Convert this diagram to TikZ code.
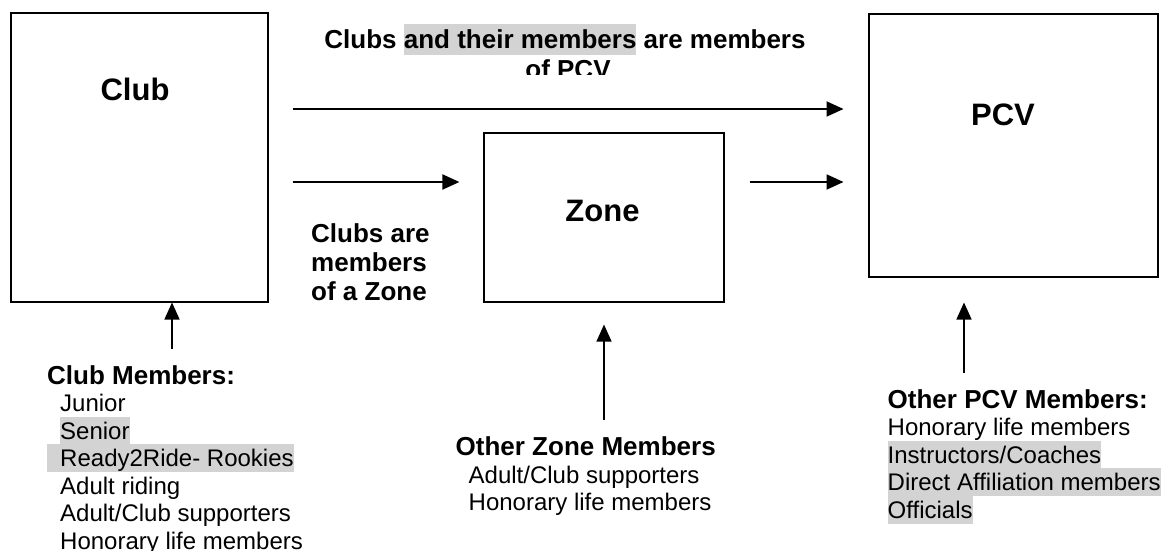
\documentclass[tikz,border=0pt]{standalone}
\usepackage{fontspec}
\setmainfont[Ligatures=NoCommon]{Liberation Sans}
\usetikzlibrary{arrows.meta}
\definecolor{hilite}{HTML}{D3D3D3}
\newcommand{\hl}[1]{{\setlength{\fboxsep}{0pt}\colorbox{hilite}{\rule[-0.24em]{0pt}{1.16em}#1}}}

\begin{document}
\begin{tikzpicture}[x=1pt,y=-1pt,
        box/.style={draw,line width=2pt,inner sep=0pt},
        thinbox/.style={draw,line width=1.2pt,inner sep=0pt},
        title/.style={inner sep=0pt,anchor=base,font=\fontsize{31}{36}\selectfont\bfseries},
        head/.style={inner sep=0pt,anchor=base west,font=\fontsize{26}{30}\selectfont\bfseries},
        item/.style={inner sep=0pt,anchor=base west,font=\fontsize{24}{27.6}\selectfont},
        arr/.style={-{Triangle[length=17pt,width=15pt]},line width=2pt},
        uparr/.style={-{Triangle[length=17pt,width=15pt]},line width=1.5pt}]
                \useasboundingbox (0,0) rectangle (1162,551);
                \node[box,minimum width=257pt,minimum height=288pt] (club) at (139,157.5) {};
                \node[thinbox,minimum width=240pt,minimum height=169pt] (zone) at (604,217.5) {};
                \node[box,minimum width=289pt,minimum height=263pt] (pcv) at (1013,145.5) {};
                \node[title] (clubname) at (135,100.7) {Club};
                \node[title] (zonename) at (602.5,221.7) {Zone};
                \node[title] (pcvname) at (1003,125.7) {PCV};
                \coordinate (toprow) at (0,109);
                \coordinate (midrow) at (0,182);
                \draw[arr,shorten <=24pt,shorten >=24pt] (club.east |- toprow) -- (pcv.west |- toprow);
                \draw[arr,shorten <=24pt,shorten >=24pt] (club.east |- midrow) -- (zone.west |- midrow);
                \draw[arr,shorten <=25pt,shorten >=24pt] (zone.east |- midrow) -- (pcv.west |- midrow);
                \begin{scope}
                    \clip (300,0) rectangle (840,75);
                    \node[head,anchor=base] (pcvnote1) at (565,48.3) {Clubs \hl{and their members} are members};
                    \node[head,anchor=base] (pcvnote2) at (568,78.3) {of PCV};
                \end{scope}
                \node[head] (zonenote1) at (311,242.3) {Clubs are};
                \node[head] (zonenote2) at (311,271.7) {members};
                \node[head] (zonenote3) at (311,300.7) {of a Zone};
                \coordinate (clubfoot) at (172,349);
                \coordinate (zonefoot) at (604,420);
                \coordinate (pcvfoot) at (964,373);
                \draw[uparr] (clubfoot) -- (clubfoot |- club.south);
                \draw[uparr,shorten >=22pt] (zonefoot) -- (zonefoot |- zone.south);
                \draw[uparr,shorten >=24.5pt] (pcvfoot) -- (pcvfoot |- pcv.south);
                \node[head] (clubhead) at (47,384) {Club Members:};
                \node[item] (club1) at (60,411.7) {Junior};
                \node[item] (club2) at (60,439.3) {\hl{Senior}};
                \node[item] (club3) at (46.7,466.5) {\hl{\ \ Ready2Ride- Rookies}};
                \node[item] (club4) at (60,494) {Adult riding};
                \node[item] (club5) at (60,521.7) {Adult/Club supporters};
                \node[item] (club6) at (60,549) {Honorary life members};
                \node[head] (zonehead) at (455.5,455.7) {Other Zone Members};
                \node[item] (zone1) at (468.5,483.3) {Adult/Club supporters};
                \node[item] (zone2) at (468.5,510.7) {Honorary life members};
                \node[head] (pcvhead) at (887.5,408) {Other PCV Members:};
                \node[item] (pcv1) at (887.5,435.5) {Honorary life members};
                \node[item] (pcv2) at (887.5,463) {\hl{Instructors/Coaches}};
                \node[item] (pcv3) at (887.5,490.5) {\hl{Direct Affiliation members}};
                \node[item] (pcv4) at (887.5,518) {\hl{Officials}};
\end{tikzpicture}
\end{document}
